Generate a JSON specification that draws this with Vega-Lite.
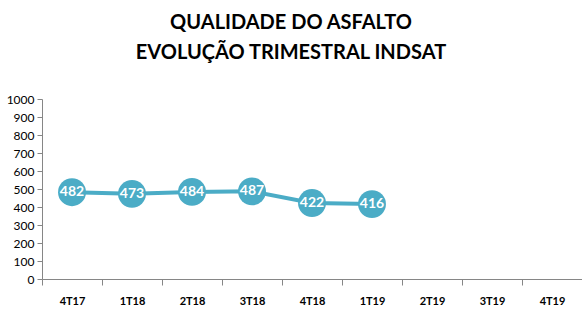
{
  "$schema": "https://vega.github.io/schema/vega-lite/v6.json",
  "width": 540,
  "height": 180,
  "autosize": "none",
  "padding": {"left": 42, "top": 99, "right": 0, "bottom": 34},
  "background": "white",
  "title": {
    "text": ["QUALIDADE DO ASFALTO", "EVOLUÇÃO TRIMESTRAL INDSAT"],
    "font": "Lato",
    "fontSize": 20,
    "fontWeight": "bold",
    "color": "#000000",
    "lineHeight": 30,
    "anchor": "middle",
    "dx": -21,
    "offset": 30
  },
  "data": {
    "values": [
      {"q": "4T17", "v": 482},
      {"q": "1T18", "v": 473},
      {"q": "2T18", "v": 484},
      {"q": "3T18", "v": 487},
      {"q": "4T18", "v": 422},
      {"q": "1T19", "v": 416},
      {"q": "2T19", "v": null},
      {"q": "3T19", "v": null},
      {"q": "4T19", "v": null}
    ]
  },
  "config": {
    "view": {"stroke": null},
    "axis": {"domainColor": "#868686", "tickColor": "#868686", "grid": false}
  },
  "encoding": {
    "x": {
      "field": "q",
      "type": "ordinal",
      "sort": null,
      "scale": {"paddingInner": 0, "paddingOuter": 0, "domain": ["4T17", "1T18", "2T18", "3T18", "4T18", "1T19", "2T19", "3T19", "4T19"]},
      "axis": {
        "title": null,
        "labelAngle": 0,
        "labelFont": "Lato",
        "labelFontWeight": "bold",
        "labelFontSize": 11,
        "labelColor": "#000000",
        "labelPadding": 10,
        "tickSize": 6,
        "tickBand": "extent"
      }
    },
    "y": {
      "field": "v",
      "type": "quantitative",
      "scale": {"domain": [0, 1000]},
      "axis": {
        "title": null,
        "values": [0, 100, 200, 300, 400, 500, 600, 700, 800, 900, 1000],
        "format": "d",
        "labelFont": "Lato",
        "labelFontSize": 12,
        "labelColor": "#000000",
        "tickSize": 5,
        "labelPadding": 3
      }
    }
  },
  "layer": [
    {
      "mark": {"type": "line", "color": "#4BACC6", "strokeWidth": 4},
      "transform": [{"filter": "datum.v != null"}],
      "encoding": {}
    },
    {
      "mark": {"type": "circle", "color": "#4BACC6", "opacity": 1, "size": 780},
      "transform": [{"filter": "datum.v != null"}],
      "encoding": {}
    },
    {
      "mark": {"type": "text", "color": "white", "font": "Lato", "fontWeight": "bold", "fontSize": 14, "baseline": "middle", "align": "center"},
      "transform": [{"filter": "datum.v != null"}],
      "encoding": {"text": {"field": "v", "type": "quantitative"}}
    }
  ]
}
